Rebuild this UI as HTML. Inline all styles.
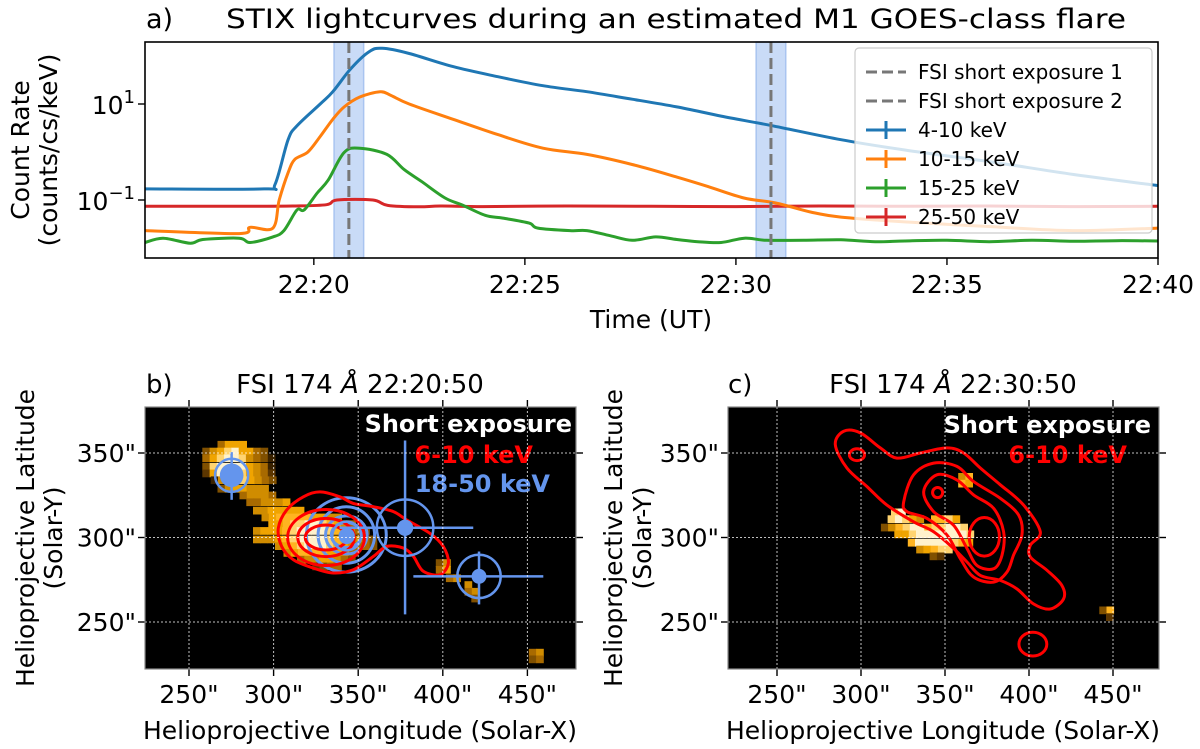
<!DOCTYPE html>
<html><head><meta charset="utf-8"><title>STIX lightcurves and FSI maps</title>
<style>
html,body{margin:0;padding:0;background:#fff;}
svg{display:block;font-family:"DejaVu Sans","Liberation Sans",sans-serif;}
</style></head>
<body>
<svg id="fig" width="1200" height="749" viewBox="0 0 1200 749" xmlns="http://www.w3.org/2000/svg">
  <rect x="0" y="0" width="1200" height="749" fill="#fff"/>
  <!-- Panel a -->
  <text x="146" y="28" font-size="27">a)</text>
  <text x="226" y="28" font-size="27" textLength="900" lengthAdjust="spacingAndGlyphs">STIX lightcurves during an estimated M1 GOES-class flare</text>
  <g id="pa"></g>
  <text transform="translate(29,150) rotate(-90)" text-anchor="middle" font-size="25">Count Rate</text>
  <text transform="translate(57,150) rotate(-90)" text-anchor="middle" font-size="25">(counts/cs/keV)</text>
  <text x="651" y="328" text-anchor="middle" font-size="25">Time (UT)</text>
  <!-- Panel b -->
  <text x="146" y="393" font-size="26">b)</text>
  <text x="360" y="393" text-anchor="middle" font-size="26">FSI 174 <tspan font-style="italic">Å</tspan> 22:20:50</text>
  <g id="pb"></g>
  <text transform="translate(34,538) rotate(-90)" text-anchor="middle" font-size="25">Helioprojective Latitude</text>
  <text transform="translate(62,538) rotate(-90)" text-anchor="middle" font-size="25">(Solar-Y)</text>
  <text x="360" y="739" text-anchor="middle" font-size="25">Helioprojective Longitude (Solar-X)</text>
  <!-- Panel c -->
  <text x="728" y="393" font-size="26">c)</text>
  <text x="953" y="393" text-anchor="middle" font-size="26">FSI 174 <tspan font-style="italic">Å</tspan> 22:30:50</text>
  <g id="pc"></g>
  <text transform="translate(622,538) rotate(-90)" text-anchor="middle" font-size="25">Helioprojective Latitude</text>
  <text transform="translate(651,538) rotate(-90)" text-anchor="middle" font-size="25">(Solar-Y)</text>
  <text x="943" y="739" text-anchor="middle" font-size="25">Helioprojective Longitude (Solar-X)</text>
</svg>
<script>
// ===== Panel a data (time in minutes after 22:16 UT) =====
const tBlue = [0,2.82,3.08,3.39,3.60,4.15,4.45,4.88,5.31,5.62,6.26,7.30,8.36,9.43,10.47,11.54,12.6,13.65,14.81,16.49,18,20,22,24];
const vBlue = [0.17,0.17,0.21,1.8,3.5,10,18,55,123,145,113,60,37,24,18,12.6,8.7,5.6,3.6,1.8,1.1,0.63,0.34,0.2];
const tOrange = [0,2.23,2.49,3.03,3.18,3.39,3.55,3.86,4.15,4.45,4.72,5.09,5.57,5.83,6.26,7.30,8.36,9.43,10.47,11.54,12.6,13.34,14.19,14.93,15.78,16.49,18,20,22,24];
const vOrange = [0.023,0.02,0.027,0.026,0.1,0.37,0.7,1.0,2.1,4.8,8.7,14,18,15,10,4.8,2.3,1.2,0.89,0.55,0.3,0.19,0.11,0.087,0.056,0.044,0.035,0.028,0.023,0.026];
const tGreen = [0,0.43,1.07,1.37,2.23,2.49,3.03,3.29,3.60,3.77,4.08,4.34,4.72,5.09,5.73,6.14,6.56,7.11,7.51,8.06,8.48,9.10,9.31,10.07,10.47,11.02,11.54,12.1,12.6,13.1,13.65,14.2,14.72,15.6,16.49,17.3,18,19,20,21,22,23,24];
const vGreen = [0.013,0.016,0.0126,0.015,0.016,0.013,0.017,0.023,0.062,0.062,0.14,0.26,0.98,1.2,0.89,0.43,0.24,0.11,0.079,0.048,0.042,0.033,0.026,0.023,0.023,0.018,0.0145,0.017,0.015,0.0135,0.013,0.016,0.0145,0.0145,0.0148,0.0135,0.014,0.0145,0.0135,0.0145,0.0138,0.0142,0.014];
const tRed = [0,2,3.5,4.3,4.55,5.4,5.75,6.5,7,8,10,12,14,16,18,20,22,24];
const vRed = [0.074,0.074,0.075,0.08,0.1,0.1,0.077,0.072,0.075,0.073,0.075,0.074,0.073,0.075,0.074,0.075,0.073,0.074];
const exposureTimes = [4.83,14.83];
const xTickLabels = ["22:20","22:25","22:30","22:35","22:40"];
const xTickTimes = [4,9,14,19,24];
const yTickExps = [1,-1];
const legendLabels = ["FSI short exposure 1","FSI short exposure 2","4-10 keV","10-15 keV","15-25 keV","25-50 keV"];

// ===== Panel b/c data (arcsec) =====
const mapXTicks = [250,300,350,400,450];
const mapYTicks = [250,300,350];
const fsiRowsB = [
 [355,269,"4666"],[351,260,"356896643"],[347,260,"4689985431"],[342,260,"3899996541"],[338,260,"2699986542"],
 [334,265,"158886543"],[329,269,"3566555"],[325,282,"45554"],[321,286,"445556"],[316,290,"5566666"],
 [312,295,"56777776655"],[308,299,"667889987654"],[304,290,"5666789999876543"],[299,290,"55567899998776543"],
 [295,303,"56789998765443"],[291,308,"5677776654"],[287,316,"45566543"],[283,325,"2344"],
 [285,398,"35"],[281,398,"46"],[276,404,"45"],[272,415,"5"],[268,415,"45"],[264,419,"3"],
 [232,453,"45"],[228,453,"34"]
];
const fsiRowsC = [
 [336,360,"57"],[332,360,"76"],
 [315,320,"89"],[311,318,"89865077860"],[306,314,"357899788998"],[302,322,"66899999998"],[297,330,"799999876"],
 [293,335,"56788"],[289,343,"32"],[257,444,"37"],[253,448,"2"]
];
const redOuterB = [[302.8,305.5],[307.7,316.2],[317.6,324.1],[327.4,327],[339.2,324.1],[347.1,320.2],[359,318.2],[370.8,315.3],[378.6,310.4],[392.4,302.5],[400.3,294.7],[403.3,284.9],[398.3,278],[388.5,280],[382.6,288.8],[376.7,293.7],[366.8,294.7],[359,288.8],[347.1,280.9],[335.3,279],[323.5,281.9],[311.7,286.8],[304.8,294.7]];
const redEllB = [[331,300,22.7,16.6],[331,300,16.7,11.3],[331,300,12.3,7.4]];
const blueEllB = [[343,301.5,23.6,22],[343,301.5,16.7,16.7],[343,301.5,12.3,11.3],[343,301.5,8.9,7.4]];
const hxrSources = [
 [275.2,336.8,4,4,14.5,13.7,9.8,7],
 [343.2,300.9,4,4,4,4,8.5,4.8],
 [377.7,305.8,38.7,40.3,51.3,51.6,16.7,4.8],
 [421.4,277,38.8,38,16.6,14.7,12.8,4.4]
];
const redOuterC = [[284.7,355],[289.7,362.9],[299.6,361.9],[311.5,353],[321.4,347],[335.3,350],[351.2,353],[361.1,350],[371,341.1],[382.9,331.2],[396.8,319.2],[406.7,303.4],[400.8,295.4],[400.8,288.5],[410.7,280.6],[419.6,271.6],[420.6,263.7],[412.7,257.7],[402.7,260.7],[392.8,269.6],[382.9,274.6],[371,277.6],[363.1,285.5],[355.1,293.5],[343.2,303.4],[331.3,309.3],[315.4,319.2],[303.5,330.2],[291.6,341.1]];
const redC2 = [[325.4,321.2],[331.3,337.1],[343.2,344],[357.1,342.1],[367,333.1],[382.9,323.2],[393.8,313.3],[395.8,301.4],[390.8,289.5],[386.9,279.6],[378.9,273.6],[367,276.6],[359.1,287.5],[351.2,301.4],[339.3,311.3],[327.3,315.3]];
const redC3 = [[337.3,327.2],[345.2,337.1],[357.1,334.1],[367,325.2],[378.9,317.3],[384.9,303.4],[383.9,289.5],[378.9,281.5],[369,283.5],[363.1,293.5],[355.1,307.3],[343.2,315.3]];
const redEllC = [[297.6,349,4.5,3.5],[345.6,326.6,3,3],[373.4,300.4,9,11.4],[402.3,236.9,8.3,7]];

const NS = "http://www.w3.org/2000/svg";
function mk(parent, tag, attrs){
  const e = document.createElementNS(NS, tag);
  for (const k in attrs) e.setAttribute(k, attrs[k]);
  parent.appendChild(e);
  return e;
}
// smooth path via Catmull-Rom
function smooth(pts, closed){
  const n = pts.length;
  let d = 'M'+pts[0][0].toFixed(1)+','+pts[0][1].toFixed(1);
  const get = i => closed ? pts[(i+n)%n] : pts[Math.max(0,Math.min(n-1,i))];
  const last = closed ? n : n-1;
  for (let i=0;i<last;i++){
    const p0=get(i-1),p1=get(i),p2=get(i+1),p3=get(i+2);
    const c1=[p1[0]+(p2[0]-p0[0])/6,p1[1]+(p2[1]-p0[1])/6];
    const c2=[p2[0]-(p3[0]-p1[0])/6,p2[1]-(p3[1]-p1[1])/6];
    d+='C'+c1[0].toFixed(1)+','+c1[1].toFixed(1)+' '+c2[0].toFixed(1)+','+c2[1].toFixed(1)+' '+p2[0].toFixed(1)+','+p2[1].toFixed(1);
  }
  return closed ? d+'Z' : d;
}

// ===== Panel a =====
const pa = document.getElementById('pa');
const AX0=145, AX1=1158, AY0=42, AY1=258;
const xT = t => AX0 + t/24*(AX1-AX0);
const yV = v => 104 - (Math.log10(v)-1)*48;

exposureTimes.forEach((t,i)=>{
  const r = mk(pa,'rect',{x:xT(t-0.35),y:AY0,width:xT(t+0.35)-xT(t-0.35),height:AY1-AY0,fill:'#c9dbf7',stroke:'#a9c4f0','stroke-width':1.5});
  
  
});
const seriesList = [[tRed,vRed,'#d62728','series-25-50kev'],[tGreen,vGreen,'#2ca02c','series-15-25kev'],[tOrange,vOrange,'#ff7f0e','series-10-15kev'],[tBlue,vBlue,'#1f77b4','series-4-10kev']];
seriesList.forEach(s=>{
  const pts = s[0].map((t,i)=>[xT(t),yV(s[1][i])]);
  const p = mk(pa,'path',{d:smooth(pts,false),fill:'none',stroke:s[2],'stroke-width':3,'stroke-linejoin':'round'});
  
  
});
exposureTimes.forEach((t,i)=>{
  const l = mk(pa,'line',{x1:xT(t),x2:xT(t),y1:AY0,y2:AY1,stroke:'#777','stroke-width':3,'stroke-dasharray':'11,5'});
  
  
});
const frame = mk(pa,'rect',{x:AX0,y:AY0,width:AX1-AX0,height:AY1-AY0,fill:'none',stroke:'#000','stroke-width':1.6});


xTickTimes.forEach((t,i)=>{
  const tk = mk(pa,'line',{x1:xT(t),x2:xT(t),y1:AY1,y2:AY1+7,stroke:'#000','stroke-width':1.4});
  
  
  const lb = mk(pa,'text',{x:xT(t),y:AY1+35,'text-anchor':'middle','font-size':25});
  lb.textContent = xTickLabels[i];
  
  
});
yTickExps.forEach(ex=>{
  const y = yV(Math.pow(10,ex));
  const tk = mk(pa,'line',{x1:AX0-7,x2:AX0,y1:y,y2:y,stroke:'#000','stroke-width':1.4});
  
  
  const lb = mk(pa,'text',{x:AX0-10,y:y+10,'text-anchor':'end','font-size':25});
  
  
  const s1 = mk(lb,'tspan',{}); s1.textContent='10';
  const s2 = mk(lb,'tspan',{'font-size':18,dy:-11}); s2.textContent=(ex<0?'\u2212':'')+Math.abs(ex);
});
const lg = mk(pa,'g',{});


const lbox = mk(lg,'rect',{x:855,y:48,width:297,height:185,rx:4,fill:'#fff','fill-opacity':0.8,stroke:'#ccc','stroke-width':1.2});


const legendColors = ['#777','#777','#1f77b4','#ff7f0e','#2ca02c','#d62728'];
legendLabels.forEach((lab,i)=>{
  const y = 72 + i*29;
  const g = mk(lg,'g',{});
  
  
  if (i<2){
    mk(g,'line',{x1:866,x2:906,y1:y,y2:y,stroke:legendColors[i],'stroke-width':3,'stroke-dasharray':'11,5'});
  } else {
    mk(g,'line',{x1:866,x2:906,y1:y,y2:y,stroke:legendColors[i],'stroke-width':3});
    mk(g,'line',{x1:886,x2:886,y1:y-9,y2:y+9,stroke:legendColors[i],'stroke-width':3});
  }
  const t = mk(g,'text',{x:918,y:y+7,'font-size':20});
  t.textContent = lab;
});

// ===== Map panels =====
const cmap = ['#000','#3a2200','#5c3600','#805000','#a86a00','#d08c00','#f0a400','#ffb420','#ffd470','#fff2cc'];
function mapPanel(gid, L, R, fx, fy, rows, tag){
  const g = document.getElementById(gid);
  const T=407, B=669;
  const bg = mk(g,'rect',{x:L,y:T,width:R-L,height:B-T,fill:'#000'});
  
  
  const clipId = 'clip'+tag;
  const cp = mk(g,'clipPath',{id:clipId});
  mk(cp,'rect',{x:L,y:T,width:R-L,height:B-T});
  const inner = mk(g,'g',{'clip-path':'url(#'+clipId+')'});
  
  
  const half = 2.15;
  rows.forEach(r=>{
    for (let i=0;i<r[2].length;i++){
      const d = +r[2][i];
      if (!d) continue;
      const xc = r[1]+i*4.3;
      const x0 = fx(xc-half), x1 = fx(xc+half), y0 = fy(r[0]+half), y1 = fy(r[0]-half);
      const c = mk(inner,'rect',{x:x0.toFixed(1),y:y0.toFixed(1),width:(x1-x0+0.4).toFixed(1),height:(y1-y0+0.4).toFixed(1),fill:cmap[d]});
      
      
    }
  });
  mapXTicks.forEach(v=>{
    const l = mk(g,'line',{x1:fx(v),x2:fx(v),y1:T,y2:B,stroke:'#fff','stroke-width':1,'stroke-dasharray':'2,2',opacity:0.75});
    
    
    [[B,B+7],[T-7,T]].forEach(p=>mk(g,'line',{x1:fx(v),x2:fx(v),y1:p[0],y2:p[1],stroke:'#000','stroke-width':1.4}));
    const lb = mk(g,'text',{x:fx(v),y:B+34,'text-anchor':'middle','font-size':25});
    lb.textContent = v+'"';
    
    
  });
  mapYTicks.forEach(v=>{
    const l = mk(g,'line',{x1:L,x2:R,y1:fy(v),y2:fy(v),stroke:'#fff','stroke-width':1,'stroke-dasharray':'2,2',opacity:0.75});
    
    
    [[L-7,L],[R,R+7]].forEach(p=>mk(g,'line',{x1:p[0],x2:p[1],y1:fy(v),y2:fy(v),stroke:'#000','stroke-width':1.4}));
    const lb = mk(g,'text',{x:L-9,y:fy(v)+9,'text-anchor':'end','font-size':25});
    lb.textContent = v+'"';
    
    
  });
  const fr = mk(g,'rect',{x:L,y:T,width:R-L,height:B-T,fill:'none',stroke:'#888','stroke-width':1.2});
  
  
  return inner;
}
function poly(g, pts, fx, fy, color, name){
  const px = pts.map(p=>[fx(p[0]),fy(p[1])]);
  const p = mk(g,'path',{d:smooth(px,true),fill:'none',stroke:color,'stroke-width':3,'stroke-linejoin':'round'});
  
  
}
function ell(g, e, fx, fy, sx, color, name){
  const el = mk(g,'ellipse',{cx:fx(e[0]),cy:fy(e[1]),rx:e[2]*sx,ry:e[3]*1.69,fill:'none',stroke:color,'stroke-width':3});
  
  
}

// Panel b
const bx = x => 189 + (x-250)*1.692;
const by = y => 453 + (350-y)*1.69;
const gb = mapPanel('pb',145,576,bx,by,fsiRowsB,'panel-b');
const BLUE = '#6495ed';
blueEllB.forEach(e=>ell(gb,e,bx,by,1.692,BLUE,'hxr-18-50kev-contour'));
poly(gb,redOuterB,bx,by,'#ff0000','thermal-6-10kev-contour');
redEllB.forEach(e=>ell(gb,e,bx,by,1.692,'#ff0000','thermal-6-10kev-contour'));
hxrSources.forEach(s=>{
  const g = mk(gb,'g',{});
  
  
  mk(g,'line',{x1:bx(s[0]-s[2]),x2:bx(s[0]+s[3]),y1:by(s[1]),y2:by(s[1]),stroke:BLUE,'stroke-width':2.5});
  mk(g,'line',{x1:bx(s[0]),x2:bx(s[0]),y1:by(s[1]-s[4]),y2:by(s[1]+s[5]),stroke:BLUE,'stroke-width':2.5});
  mk(g,'circle',{cx:bx(s[0]),cy:by(s[1]),r:s[6]*1.692,fill:'none',stroke:BLUE,'stroke-width':2.5});
  mk(g,'circle',{cx:bx(s[0]),cy:by(s[1]),r:s[7]*1.692,fill:BLUE});
});
[['Short exposure','#fff',432,572,'label-short-exposure-b'],['6-10 keV','#ff0000',463,533,'label-6-10kev-b'],['18-50 keV',BLUE,492,550,'label-18-50kev-b']].forEach(a=>{
  const t = mk(gb,'text',{x:a[3],y:a[2],'text-anchor':'end','font-size':24,'font-weight':'bold',fill:a[1]});
  t.textContent = a[0];
  
  
});

// Panel c
const cx = x => 777 + (x-250)*1.68;
const cy = y => 453 + (350-y)*1.69;
const gc = mapPanel('pc',728,1159,cx,cy,fsiRowsC,'panel-c');
poly(gc,redOuterC,cx,cy,'#ff0000','thermal-6-10kev-contour');
poly(gc,redC2,cx,cy,'#ff0000','thermal-6-10kev-contour');
poly(gc,redC3,cx,cy,'#ff0000','thermal-6-10kev-contour');
redEllC.forEach(e=>ell(gc,e,cx,cy,1.68,'#ff0000','thermal-6-10kev-contour'));
[['Short exposure','#fff',433,1151,'label-short-exposure-c'],['6-10 keV','#ff0000',463,1127,'label-6-10kev-c']].forEach(a=>{
  const t = mk(gc,'text',{x:a[3],y:a[2],'text-anchor':'end','font-size':24,'font-weight':'bold',fill:a[1]});
  t.textContent = a[0];
  
  
});
</script>
</body></html>
